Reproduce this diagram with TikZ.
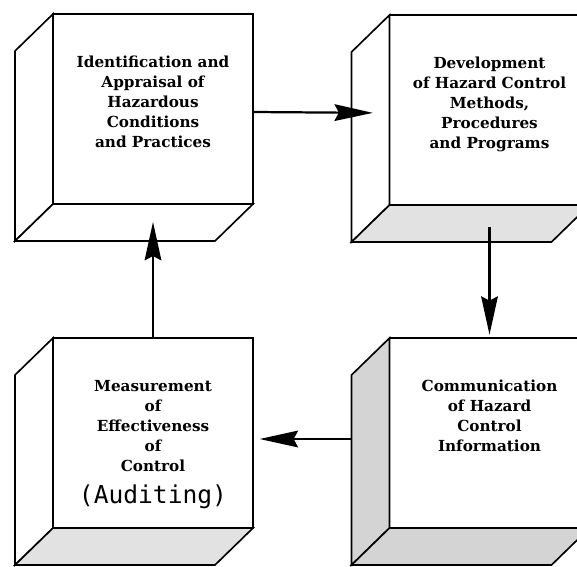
\documentclass[tikz,border=0pt]{standalone}
\usepackage{fontspec}
\setmainfont{DejaVu Serif}
\newfontfamily\typedfont{DejaVu Sans Mono}
\usepackage{tikz}
\usetikzlibrary{
    positioning,
    arrows.meta,
    calc
}
\definecolor{speckLight}{RGB}{226, 226, 226}
\definecolor{speckDark}{RGB}{212, 212, 212}

\begin{document}
\begin{tikzpicture}[x=0.3mm, y=-0.3mm,
    face/.style={draw, line width=1.4pt, fill=white, minimum width=60mm, minimum height=57mm, inner sep=0pt, outer sep=0pt},
    edge/.style={line width=1.4pt, line join=miter},
    caption/.style={font=\bfseries\fontsize{13}{17}\selectfont, align=center, inner sep=0pt},
    typed/.style={font=\typedfont\fontsize{21}{24}\selectfont, inner sep=0pt},
    flow/.style={line width=1.9pt, -{Stealth[length=11.5mm, width=5mm, inset=1.3mm]}}
]
    % page frame
    \useasboundingbox (0,0) rectangle (577,566);
    \clip (0,0) rectangle (577,566);

    % front faces
    \node[face] (ident) at (153,109) {};
    \node[face] (devel) at (489.5,110) {};
    \node[face] (audit) at (153,433) {};
    \node[face] (comm)  at (489.5,433) {};

    % side and bottom faces (depth towards lower left)
    \foreach \b/\sidecol/\basecol in {ident/white/white, devel/white/speckLight, audit/white/speckLight, comm/speckDark/speckDark}{
        \draw[edge, fill=\sidecol] (\b.north west) -- ++(-38,37) -- ($(\b.south west)+(-38,37)$) -- (\b.south west) -- cycle;
        \draw[edge, fill=\basecol] (\b.south west) -- (\b.south east) -- ++(-38,37) -- ($(\b.south west)+(-38,37)$) -- cycle;
    }

    % texts
    \node[caption, below=12.6mm of ident.north] (ident-txt) {Identification and\\Appraisal of\\Hazardous\\Conditions\\and Practices};
    \node[caption, below=12.6mm of devel.north] (devel-txt) {Development\\of Hazard Control\\Methods,\\Procedures\\and Programs};
    \node[caption, below=12.6mm of audit.north] (audit-txt) {Measurement\\of\\Effectiveness\\of\\Control};
    \node[typed, below=4mm of audit-txt] (audit-note) {(Auditing)};
    \node[caption, below=12.6mm of comm.north] (comm-txt) {Communication\\of Hazard\\Control\\Information};

    % cycle arrows
    \draw[flow, shorten >=5mm] ([yshift=-0.9mm]ident.east) -- ([yshift=-0.9mm]devel.west);
    \draw[flow, shorten <=6.6mm, shorten >=1mm] (devel.south) -- (comm.north);
    \draw[flow, shorten <=11.4mm, shorten >=2mm] ([yshift=-1.8mm]comm.west) -- ([yshift=-1.8mm]audit.east);
    \draw[flow, shorten >=5.4mm] (audit.north) -- (ident.south);
\end{tikzpicture}
\end{document}
